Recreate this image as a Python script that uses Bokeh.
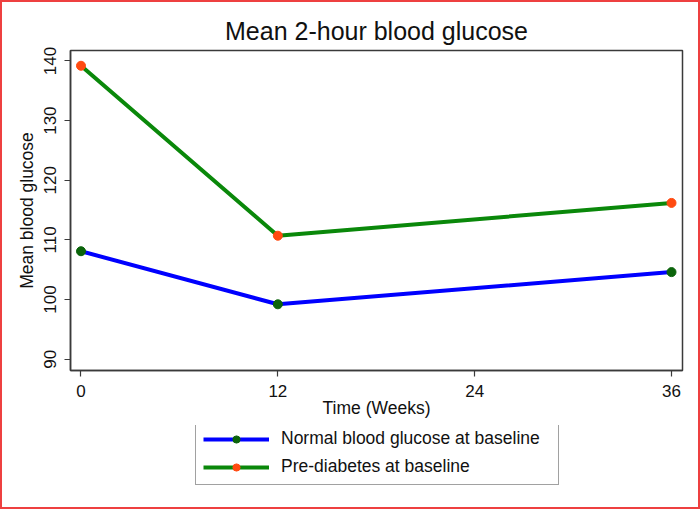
from bokeh.plotting import figure
from bokeh.layouts import column
from bokeh.models import Range1d, FixedTicker, Legend, LegendItem, InlineStyleSheet
from bokeh.embed import file_html
from bokeh.resources import INLINE

weeks = [0, 12, 36]
normal = [108.1, 99.2, 104.6]
prediab = [139.2, 110.7, 116.2]
x_ticks = [0, 12, 24, 36]
y_ticks = [90, 100, 110, 120, 130, 140]
title_text = "Mean 2-hour blood glucose"
series_names = ["Normal blood glucose at baseline", "Pre-diabetes at baseline"]
line_colors = ["#0000ff", "#0a880a"]
marker_colors = ["#0b640b", "#ff4a10"]

FONT = "Liberation Sans"
FRAME = "#3a3a3a"

border_css = InlineStyleSheet(css="""
:host { position: relative; }
:host::after { content: ""; position: absolute; left: 0; top: 0; right: 0; bottom: 0;
  border: 2px solid #ee4040; pointer-events: none; z-index: 1000; }
""")

p = figure(width=700, height=425, output_backend="svg", toolbar_location=None,
           x_range=Range1d(-0.64, 36.67), y_range=Range1d(88.1, 141.76),
           min_border_left=70, min_border_right=18, min_border_top=50, min_border_bottom=55,
           title=title_text)

p.title.align = "center"
p.title.text_font = FONT
p.title.text_font_size = "25px"
p.title.text_font_style = "normal"
p.title.text_color = "#111111"
p.title.standoff = 12

p.grid.visible = False
p.outline_line_color = FRAME
p.outline_line_width = 1.5
p.background_fill_color = "white"
p.border_fill_color = "white"

for ax in (p.xaxis[0], p.yaxis[0]):
    ax.axis_line_color = FRAME
    ax.axis_line_width = 1.5
    ax.major_tick_line_color = FRAME
    ax.major_tick_line_width = 1.2
    ax.major_tick_in = 0
    ax.major_tick_out = 6
    ax.minor_tick_line_color = None
    ax.major_label_text_font = FONT
    ax.major_label_text_font_size = "17px"
    ax.major_label_text_color = "#111111"
    ax.major_label_standoff = 8
    ax.axis_label_text_font = FONT
    ax.axis_label_text_font_size = "17.5px"
    ax.axis_label_text_font_style = "normal"
    ax.axis_label_text_color = "#111111"

p.xaxis.ticker = FixedTicker(ticks=x_ticks)
p.yaxis.ticker = FixedTicker(ticks=y_ticks)
p.xaxis.axis_label = "Time (Weeks)"
p.yaxis.axis_label = "Mean blood glucose"
p.yaxis.major_label_orientation = "vertical"
p.xaxis.axis_label_standoff = -2
p.yaxis.axis_label_standoff = 5

p.line(weeks, normal, line_color=line_colors[0], line_width=4)
p.scatter(weeks, normal, size=9, fill_color=marker_colors[0], line_color=marker_colors[0])
p.line(weeks, prediab, line_color=line_colors[1], line_width=4)
p.scatter(weeks, prediab, size=9, fill_color=marker_colors[1], line_color=marker_colors[1])

# legend panel (separate figure below the chart); its series lie outside its view
q = figure(width=700, height=84, output_backend="svg", toolbar_location=None,
           x_range=Range1d(0, 1), y_range=Range1d(0, 1),
           x_axis_location=None, y_axis_location=None, min_border=0)
q.grid.visible = False
q.outline_line_color = None
q.background_fill_color = "white"
q.border_fill_color = "white"

items = []
for name, ys, lc, mc in zip(series_names, [normal, prediab], line_colors, marker_colors):
    lr = q.line(weeks, ys, line_color=lc, line_width=4)
    cr = q.scatter(weeks, ys, size=9, fill_color=mc, line_color=mc)
    items.append(LegendItem(label=name, renderers=[lr, cr]))

legend = Legend(items=items, location=(125, 24), orientation="vertical")
legend.label_text_font = FONT
legend.label_text_font_size = "17.5px"
legend.label_text_color = "#111111"
legend.glyph_width = 66
legend.glyph_height = 18
legend.label_height = 18
legend.label_width = 270
legend.label_standoff = 12
legend.spacing = 7
legend.padding = 7
legend.margin = 0
legend.border_line_color = "#444444"
legend.border_line_width = 1.2
legend.background_fill_alpha = 1
q.add_layout(legend, "center")

layout = column(p, q, spacing=0, stylesheets=[border_css])

open("out.html", "w").write(file_html(layout, INLINE))
